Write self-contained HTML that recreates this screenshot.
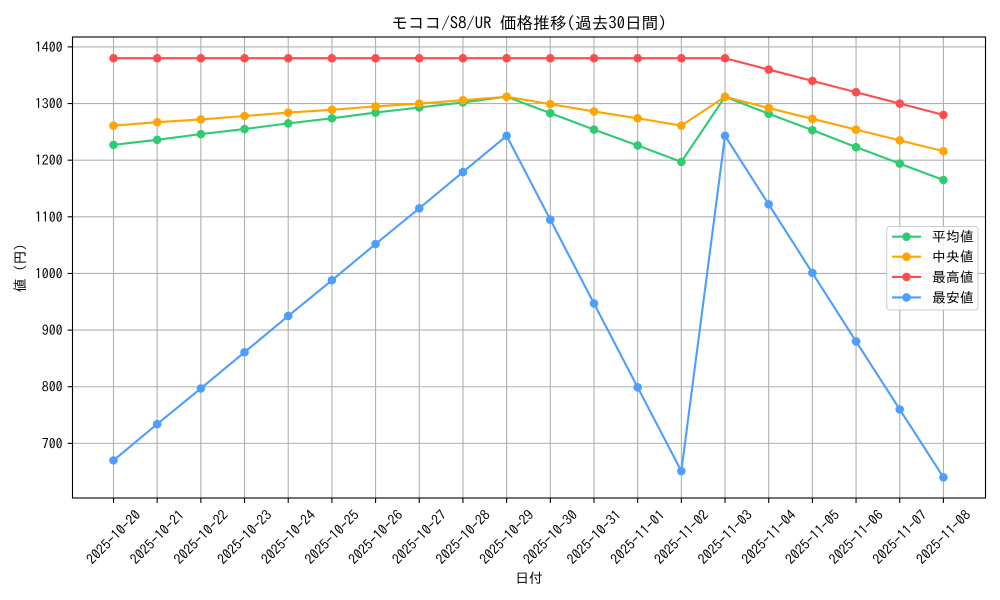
<!DOCTYPE html>
<html><head><meta charset="utf-8"><style>
html,body{margin:0;padding:0;background:#fff;}
svg{display:block;}
text{font-family:"IPAGothic","Liberation Sans","Noto Sans CJK JP",sans-serif;fill:#000;}
</style></head><body>
<svg width="1000" height="600" viewBox="0 0 1000 600" xmlns="http://www.w3.org/2000/svg">
<rect width="1000" height="600" fill="#fff"/>
<!-- grid -->
<g stroke="#b0b0b0" stroke-width="1.1">
<line x1="113.5" y1="37" x2="113.5" y2="498"/>
<line x1="157.18" y1="37" x2="157.18" y2="498"/>
<line x1="200.86" y1="37" x2="200.86" y2="498"/>
<line x1="244.54" y1="37" x2="244.54" y2="498"/>
<line x1="288.22" y1="37" x2="288.22" y2="498"/>
<line x1="331.9" y1="37" x2="331.9" y2="498"/>
<line x1="375.58" y1="37" x2="375.58" y2="498"/>
<line x1="419.26" y1="37" x2="419.26" y2="498"/>
<line x1="462.94" y1="37" x2="462.94" y2="498"/>
<line x1="506.62" y1="37" x2="506.62" y2="498"/>
<line x1="550.3" y1="37" x2="550.3" y2="498"/>
<line x1="593.98" y1="37" x2="593.98" y2="498"/>
<line x1="637.66" y1="37" x2="637.66" y2="498"/>
<line x1="681.34" y1="37" x2="681.34" y2="498"/>
<line x1="725.02" y1="37" x2="725.02" y2="498"/>
<line x1="768.7" y1="37" x2="768.7" y2="498"/>
<line x1="812.38" y1="37" x2="812.38" y2="498"/>
<line x1="856.06" y1="37" x2="856.06" y2="498"/>
<line x1="899.74" y1="37" x2="899.74" y2="498"/>
<line x1="943.42" y1="37" x2="943.42" y2="498"/>
<line x1="72.5" y1="46.9" x2="985.5" y2="46.9"/>
<line x1="72.5" y1="103.54" x2="985.5" y2="103.54"/>
<line x1="72.5" y1="160.18" x2="985.5" y2="160.18"/>
<line x1="72.5" y1="216.82" x2="985.5" y2="216.82"/>
<line x1="72.5" y1="273.46" x2="985.5" y2="273.46"/>
<line x1="72.5" y1="330.1" x2="985.5" y2="330.1"/>
<line x1="72.5" y1="386.74" x2="985.5" y2="386.74"/>
<line x1="72.5" y1="443.38" x2="985.5" y2="443.38"/>
</g>
<!-- series -->
<g fill="none" stroke-width="2.1" stroke-linejoin="round">
<polyline stroke="#2ecc71" points="113.5,144.89 157.18,139.79 200.86,134.13 244.54,129.03 288.22,123.36 331.9,118.27 375.58,112.6 419.26,107.5 462.94,102.41 506.62,96.74 550.3,113.17 593.98,129.59 637.66,145.45 681.34,161.88 725.02,96.74 768.7,113.74 812.38,130.16 856.06,147.15 899.74,163.58 943.42,180"/>
<polyline stroke="#ffa500" points="113.5,125.63 157.18,122.23 200.86,119.4 244.54,116 288.22,112.6 331.9,109.77 375.58,106.37 419.26,103.54 462.94,100.14 506.62,96.74 550.3,104.11 593.98,111.47 637.66,118.27 681.34,125.63 725.02,96.74 768.7,108.07 812.38,118.83 856.06,129.59 899.74,140.36 943.42,151.12"/>
<polyline stroke="#ff4d4d" points="113.5,58.23 157.18,58.23 200.86,58.23 244.54,58.23 288.22,58.23 331.9,58.23 375.58,58.23 419.26,58.23 462.94,58.23 506.62,58.23 550.3,58.23 593.98,58.23 637.66,58.23 681.34,58.23 725.02,58.23 768.7,69.56 812.38,80.88 856.06,92.21 899.74,103.54 943.42,114.87"/>
<polyline stroke="#4d9eff" points="113.5,460.37 157.18,424.12 200.86,388.44 244.54,352.19 288.22,315.94 331.9,280.26 375.58,244.01 419.26,208.32 462.94,172.07 506.62,135.82 550.3,219.65 593.98,303.48 637.66,387.31 681.34,471.13 725.02,135.82 768.7,204.36 812.38,272.89 856.06,341.43 899.74,409.4 943.42,477.36"/>
</g>
<g fill="#2ecc71">
<circle cx="113.5" cy="144.89" r="4.3"/><circle cx="157.18" cy="139.79" r="4.3"/><circle cx="200.86" cy="134.13" r="4.3"/><circle cx="244.54" cy="129.03" r="4.3"/><circle cx="288.22" cy="123.36" r="4.3"/><circle cx="331.9" cy="118.27" r="4.3"/><circle cx="375.58" cy="112.6" r="4.3"/><circle cx="419.26" cy="107.5" r="4.3"/><circle cx="462.94" cy="102.41" r="4.3"/><circle cx="506.62" cy="96.74" r="4.3"/><circle cx="550.3" cy="113.17" r="4.3"/><circle cx="593.98" cy="129.59" r="4.3"/><circle cx="637.66" cy="145.45" r="4.3"/><circle cx="681.34" cy="161.88" r="4.3"/><circle cx="725.02" cy="96.74" r="4.3"/><circle cx="768.7" cy="113.74" r="4.3"/><circle cx="812.38" cy="130.16" r="4.3"/><circle cx="856.06" cy="147.15" r="4.3"/><circle cx="899.74" cy="163.58" r="4.3"/><circle cx="943.42" cy="180" r="4.3"/>
</g>
<g fill="#ffa500">
<circle cx="113.5" cy="125.63" r="4.3"/><circle cx="157.18" cy="122.23" r="4.3"/><circle cx="200.86" cy="119.4" r="4.3"/><circle cx="244.54" cy="116" r="4.3"/><circle cx="288.22" cy="112.6" r="4.3"/><circle cx="331.9" cy="109.77" r="4.3"/><circle cx="375.58" cy="106.37" r="4.3"/><circle cx="419.26" cy="103.54" r="4.3"/><circle cx="462.94" cy="100.14" r="4.3"/><circle cx="506.62" cy="96.74" r="4.3"/><circle cx="550.3" cy="104.11" r="4.3"/><circle cx="593.98" cy="111.47" r="4.3"/><circle cx="637.66" cy="118.27" r="4.3"/><circle cx="681.34" cy="125.63" r="4.3"/><circle cx="725.02" cy="96.74" r="4.3"/><circle cx="768.7" cy="108.07" r="4.3"/><circle cx="812.38" cy="118.83" r="4.3"/><circle cx="856.06" cy="129.59" r="4.3"/><circle cx="899.74" cy="140.36" r="4.3"/><circle cx="943.42" cy="151.12" r="4.3"/>
</g>
<g fill="#ff4d4d">
<circle cx="113.5" cy="58.23" r="4.3"/><circle cx="157.18" cy="58.23" r="4.3"/><circle cx="200.86" cy="58.23" r="4.3"/><circle cx="244.54" cy="58.23" r="4.3"/><circle cx="288.22" cy="58.23" r="4.3"/><circle cx="331.9" cy="58.23" r="4.3"/><circle cx="375.58" cy="58.23" r="4.3"/><circle cx="419.26" cy="58.23" r="4.3"/><circle cx="462.94" cy="58.23" r="4.3"/><circle cx="506.62" cy="58.23" r="4.3"/><circle cx="550.3" cy="58.23" r="4.3"/><circle cx="593.98" cy="58.23" r="4.3"/><circle cx="637.66" cy="58.23" r="4.3"/><circle cx="681.34" cy="58.23" r="4.3"/><circle cx="725.02" cy="58.23" r="4.3"/><circle cx="768.7" cy="69.56" r="4.3"/><circle cx="812.38" cy="80.88" r="4.3"/><circle cx="856.06" cy="92.21" r="4.3"/><circle cx="899.74" cy="103.54" r="4.3"/><circle cx="943.42" cy="114.87" r="4.3"/>
</g>
<g fill="#4d9eff">
<circle cx="113.5" cy="460.37" r="4.3"/><circle cx="157.18" cy="424.12" r="4.3"/><circle cx="200.86" cy="388.44" r="4.3"/><circle cx="244.54" cy="352.19" r="4.3"/><circle cx="288.22" cy="315.94" r="4.3"/><circle cx="331.9" cy="280.26" r="4.3"/><circle cx="375.58" cy="244.01" r="4.3"/><circle cx="419.26" cy="208.32" r="4.3"/><circle cx="462.94" cy="172.07" r="4.3"/><circle cx="506.62" cy="135.82" r="4.3"/><circle cx="550.3" cy="219.65" r="4.3"/><circle cx="593.98" cy="303.48" r="4.3"/><circle cx="637.66" cy="387.31" r="4.3"/><circle cx="681.34" cy="471.13" r="4.3"/><circle cx="725.02" cy="135.82" r="4.3"/><circle cx="768.7" cy="204.36" r="4.3"/><circle cx="812.38" cy="272.89" r="4.3"/><circle cx="856.06" cy="341.43" r="4.3"/><circle cx="899.74" cy="409.4" r="4.3"/><circle cx="943.42" cy="477.36" r="4.3"/>
</g>
<!-- spines -->
<rect x="72.5" y="37" width="913" height="461" fill="none" stroke="#000" stroke-width="1.1"/>
<!-- ticks -->
<g stroke="#000" stroke-width="1.1">
<line x1="67.6" y1="46.9" x2="72.5" y2="46.9"/><line x1="67.6" y1="103.54" x2="72.5" y2="103.54"/><line x1="67.6" y1="160.18" x2="72.5" y2="160.18"/><line x1="67.6" y1="216.82" x2="72.5" y2="216.82"/><line x1="67.6" y1="273.46" x2="72.5" y2="273.46"/><line x1="67.6" y1="330.1" x2="72.5" y2="330.1"/><line x1="67.6" y1="386.74" x2="72.5" y2="386.74"/><line x1="67.6" y1="443.38" x2="72.5" y2="443.38"/>
<line x1="113.5" y1="498" x2="113.5" y2="503"/><line x1="157.18" y1="498" x2="157.18" y2="503"/><line x1="200.86" y1="498" x2="200.86" y2="503"/><line x1="244.54" y1="498" x2="244.54" y2="503"/><line x1="288.22" y1="498" x2="288.22" y2="503"/><line x1="331.9" y1="498" x2="331.9" y2="503"/><line x1="375.58" y1="498" x2="375.58" y2="503"/><line x1="419.26" y1="498" x2="419.26" y2="503"/><line x1="462.94" y1="498" x2="462.94" y2="503"/><line x1="506.62" y1="498" x2="506.62" y2="503"/><line x1="550.3" y1="498" x2="550.3" y2="503"/><line x1="593.98" y1="498" x2="593.98" y2="503"/><line x1="637.66" y1="498" x2="637.66" y2="503"/><line x1="681.34" y1="498" x2="681.34" y2="503"/><line x1="725.02" y1="498" x2="725.02" y2="503"/><line x1="768.7" y1="498" x2="768.7" y2="503"/><line x1="812.38" y1="498" x2="812.38" y2="503"/><line x1="856.06" y1="498" x2="856.06" y2="503"/><line x1="899.74" y1="498" x2="899.74" y2="503"/><line x1="943.42" y1="498" x2="943.42" y2="503"/>
</g>
<!-- y tick labels -->
<g font-size="13.9" text-anchor="end" dominant-baseline="central">
<text x="62.6" y="46.9">1400</text><text x="62.6" y="103.54">1300</text><text x="62.6" y="160.18">1200</text><text x="62.6" y="216.82">1100</text><text x="62.6" y="273.46">1000</text><text x="62.6" y="330.1">900</text><text x="62.6" y="386.74">800</text><text x="62.6" y="443.38">700</text>
</g>
<!-- x tick labels -->
<g font-size="13.9" text-anchor="middle" dominant-baseline="central">
<text x="113.5" y="537" transform="rotate(-45 113.5 537)">2025-10-20</text>
<text x="157.18" y="537" transform="rotate(-45 157.18 537)">2025-10-21</text>
<text x="200.86" y="537" transform="rotate(-45 200.86 537)">2025-10-22</text>
<text x="244.54" y="537" transform="rotate(-45 244.54 537)">2025-10-23</text>
<text x="288.22" y="537" transform="rotate(-45 288.22 537)">2025-10-24</text>
<text x="331.9" y="537" transform="rotate(-45 331.9 537)">2025-10-25</text>
<text x="375.58" y="537" transform="rotate(-45 375.58 537)">2025-10-26</text>
<text x="419.26" y="537" transform="rotate(-45 419.26 537)">2025-10-27</text>
<text x="462.94" y="537" transform="rotate(-45 462.94 537)">2025-10-28</text>
<text x="506.62" y="537" transform="rotate(-45 506.62 537)">2025-10-29</text>
<text x="550.3" y="537" transform="rotate(-45 550.3 537)">2025-10-30</text>
<text x="593.98" y="537" transform="rotate(-45 593.98 537)">2025-10-31</text>
<text x="637.66" y="537" transform="rotate(-45 637.66 537)">2025-11-01</text>
<text x="681.34" y="537" transform="rotate(-45 681.34 537)">2025-11-02</text>
<text x="725.02" y="537" transform="rotate(-45 725.02 537)">2025-11-03</text>
<text x="768.7" y="537" transform="rotate(-45 768.7 537)">2025-11-04</text>
<text x="812.38" y="537" transform="rotate(-45 812.38 537)">2025-11-05</text>
<text x="856.06" y="537" transform="rotate(-45 856.06 537)">2025-11-06</text>
<text x="899.74" y="537" transform="rotate(-45 899.74 537)">2025-11-07</text>
<text x="943.42" y="537" transform="rotate(-45 943.42 537)">2025-11-08</text>
</g>
<!-- title and axis labels -->
<text x="529" y="23.5" font-size="16.7" text-anchor="middle" dominant-baseline="central">モココ/S8/UR 価格推移(過去30日間)</text>
<text x="529" y="578" font-size="13.9" text-anchor="middle" dominant-baseline="central">日付</text>
<text x="20" y="268" font-size="13.9" text-anchor="middle" dominant-baseline="central" transform="rotate(-90 20 268)">値 (円)</text>
<!-- legend -->
<rect x="886.7" y="226.5" width="91.3" height="83.5" rx="3" ry="3" fill="#fff" fill-opacity="0.8" stroke="#cccccc" stroke-width="1"/>
<g stroke-width="2.1">
<line x1="892" y1="236.7" x2="921" y2="236.7" stroke="#2ecc71"/><circle cx="906.5" cy="236.7" r="4.3" fill="#2ecc71"/>
<line x1="892" y1="256.7" x2="921" y2="256.7" stroke="#ffa500"/><circle cx="906.5" cy="256.7" r="4.3" fill="#ffa500"/>
<line x1="892" y1="276.9" x2="921" y2="276.9" stroke="#ff4d4d"/><circle cx="906.5" cy="276.9" r="4.3" fill="#ff4d4d"/>
<line x1="892" y1="297.4" x2="921" y2="297.4" stroke="#4d9eff"/><circle cx="906.5" cy="297.4" r="4.3" fill="#4d9eff"/>
</g>
<g font-size="13.9" dominant-baseline="central">
<text x="932" y="236.7">平均値</text>
<text x="932" y="256.7">中央値</text>
<text x="932" y="276.9">最高値</text>
<text x="932" y="297.4">最安値</text>
</g>
</svg>
</body></html>
